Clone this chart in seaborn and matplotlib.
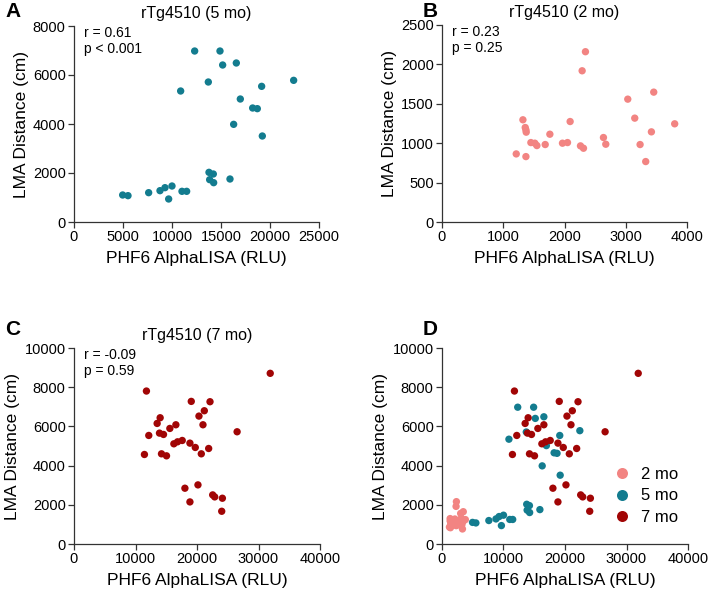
import numpy as np
import pandas as pd
import matplotlib
matplotlib.use("Agg")
import matplotlib.pyplot as plt
import seaborn as sns

# ---- data ----
x_5mo = [4966, 5510, 7618, 8775, 9285, 9999, 9659, 11019, 11495, 13774, 14216, 13842,
         14250, 15917, 10883, 12312, 14897, 15169, 16563, 13706, 16971, 16291, 18230,
         18706, 19148, 19216, 22413]
y_5mo = [1102, 1075, 1197, 1279, 1401, 1469, 939, 1252, 1252, 2027, 1959, 1728,
         1605, 1755, 5347, 6979, 6979, 6408, 6490, 5714, 5020, 3986, 4653,
         4626, 5537, 3510, 5782]

x_2mo = [1212, 1321, 1359, 1370, 1375, 1370, 1451, 1516, 1549, 1685, 1761, 1967, 2049,
         2092, 2261, 2310, 2288, 2342, 2636, 2674, 3033, 3147, 3234, 3326, 3457, 3419, 3799]
y_2mo = [864, 1297, 1199, 1169, 1140, 830, 1008, 1000, 970, 983, 1114, 1000, 1008,
         1275, 966, 936, 1919, 2161, 1072, 987, 1559, 1318, 983, 767, 1648, 1144, 1246]

x_7mo = [11778, 11452, 12159, 13519, 14008, 13900, 14553, 14226, 15042, 15586, 16565,
         16238, 16837, 17599, 18034, 18850, 18850, 19068, 19721, 20156, 20319, 20700,
         20972, 21190, 21897, 22115, 22550, 22877, 24128, 24019, 26521, 31907]
y_7mo = [7804, 4567, 5538, 6151, 6441, 5657, 5589, 4601, 4499, 5896, 6083,
         5112, 5214, 5282, 2846, 2147, 5146, 7276, 4925, 3016, 6526, 4601,
         6083, 6799, 4873, 7259, 2505, 2403, 2335, 1670, 5726, 8708]

groups = ["2 mo", "5 mo", "7 mo"]
colors = {"2 mo": "#f28482", "5 mo": "#137c8f", "7 mo": "#a10505"}
titles = {"5 mo": "rTg4510 (5 mo)", "2 mo": "rTg4510 (2 mo)", "7 mo": "rTg4510 (7 mo)"}
stats = {"5 mo": "r = 0.61\np < 0.001", "2 mo": "r = 0.23\np = 0.25",
         "7 mo": "r = -0.09\np = 0.59"}

df = pd.concat([
    pd.DataFrame({"x": x_2mo, "y": y_2mo, "age": "2 mo"}),
    pd.DataFrame({"x": x_5mo, "y": y_5mo, "age": "5 mo"}),
    pd.DataFrame({"x": x_7mo, "y": y_7mo, "age": "7 mo"}),
], ignore_index=True)

sns.set_style("ticks")
plt.rcParams["font.family"] = ["Liberation Sans", "DejaVu Sans"]
plt.rcParams["text.color"] = "black"
plt.rcParams["axes.labelcolor"] = "black"
plt.rcParams["xtick.color"] = "black"
plt.rcParams["ytick.color"] = "black"

W, H = 710, 592
fig = plt.figure(figsize=(W / 100, H / 100), dpi=100)

def box(l, t, r, b):
    return [l / W, 1 - b / H, (r - l) / W, (b - t) / H]

axA = fig.add_axes(box(74, 26, 319, 222))
axB = fig.add_axes(box(442, 25, 687, 222))
axC = fig.add_axes(box(74, 348, 320, 544))
axD = fig.add_axes(box(442, 348, 688, 544))

def style(ax, xmax, xstep, ymax, ystep):
    ax.set_xlim(0, xmax)
    ax.set_ylim(0, ymax)
    ax.set_xticks(np.arange(0, xmax + 1, xstep))
    ax.set_yticks(np.arange(0, ymax + 1, ystep))
    ax.set_xlabel("PHF6 AlphaLISA (RLU)", fontsize=12.5, labelpad=5)
    ax.set_ylabel("LMA Distance (cm)", fontsize=12.5, labelpad=3)
    ax.tick_params(labelsize=10.5, length=4, width=0.9, color="#333333", pad=2)
    for s in ["top", "right"]:
        ax.spines[s].set_visible(False)
    for s in ["left", "bottom"]:
        ax.spines[s].set_linewidth(0.9)
        ax.spines[s].set_color("#333333")
        ax.spines[s].set_clip_on(False)

for ax, g, lim in [(axA, "5 mo", (25000, 5000, 8000, 2000)),
                   (axB, "2 mo", (4000, 1000, 2500, 500)),
                   (axC, "7 mo", (40000, 10000, 10000, 2000))]:
    sns.scatterplot(data=df[df["age"] == g], x="x", y="y", color=colors[g],
                    s=28, edgecolor="none", ax=ax, legend=False)
    style(ax, *lim)
    ax.set_title(titles[g], fontsize=11.5, pad=6)
    ax.text(0.04, 1.0, stats[g], transform=ax.transAxes, va="top", ha="left",
            fontsize=10, linespacing=1.15)

sns.scatterplot(data=df, x="x", y="y", hue="age", hue_order=groups, palette=colors,
                s=28, edgecolor="none", ax=axD)
style(axD, 40000, 10000, 10000, 2000)
leg = axD.legend(loc="lower right", bbox_to_anchor=(1.02, 0.02), frameon=False,
                 fontsize=12, handletextpad=0.15, labelspacing=0.4, markerscale=1.5)

for letter, (x, y) in {"A": (5, 2), "B": (423, 2), "C": (5, 320), "D": (423, 320)}.items():
    fig.text(x / W, 1 - y / H, letter, fontsize=15, fontweight="bold", va="top", ha="left")

fig.savefig("out.png", dpi=100)
